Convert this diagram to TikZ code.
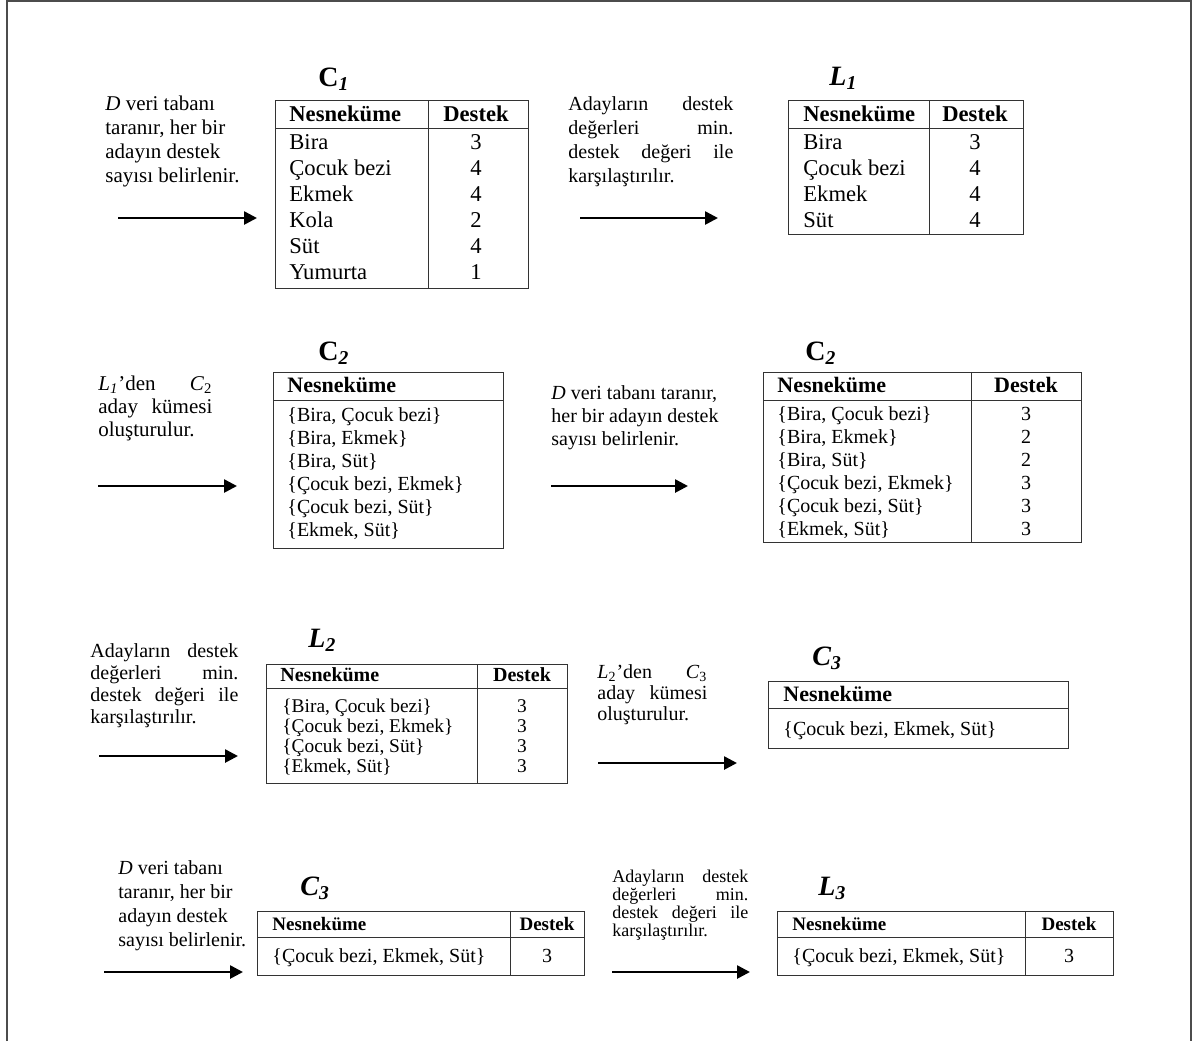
\documentclass[tikz,border=0pt]{standalone}
\usepackage{fontspec}
\setmainfont{Liberation Serif}
\usetikzlibrary{arrows.meta}
\newcommand{\fs}[2]{\fontsize{#1}{#2}\selectfont}
\newcommand{\stack}[2][l]{\begin{tabular}[t]{@{}#1@{}}#2\end{tabular}}
\newcommand{\jst}[2]{\makebox[#1][s]{#2}}
\begin{document}
\begin{tikzpicture}[
  x=0.5pt, y=-0.5pt,
  box/.style={draw=black!80, line width=0.5pt},
  frame/.style={draw=black!70, line width=1pt},
  flow/.style={-{Triangle[length=6.5pt, width=6.5pt]}, line width=1.3pt},
  note/.style={anchor=base west, inner sep=0pt},
  cell/.style={anchor=base west, inner sep=0pt},
  num/.style={anchor=base, inner sep=0pt},
  ttl/.style={anchor=base west, inner sep=0pt, font=\fs{14}{14}\bfseries}
]
  \useasboundingbox (0,0) rectangle (1194,1041);
  \draw[frame] (7,1041) -- (7,1) -- (1191,1) -- (1191,1041);

  \node[note, font=\fs{10.5}{12}] (scan1) at (105,110) {\stack{\textit{D} veri tabanı\\taranır, her bir\\adayın destek\\sayısı belirlenir.}};
  \coordinate (a1s) at (118,218);
  \coordinate (a1e) at (257,218);
  \draw[flow] (a1s) -- (a1e);

  \draw[box] (275,100) rectangle (528,288);
  \draw[box] (275,128) -- (528,128);
  \draw[box] (428,100) -- (428,288);
  \node[ttl] (c1t) at (318,86) {C\textsubscript{\textit{1}}};
  \node[cell, font=\fs{11.3}{13}\bfseries] (c1h) at (289,121) {Nesneküme};
  \node[num, font=\fs{11.3}{13}\bfseries] (c1d) at (476,121) {Destek};
  \node[cell, font=\fs{11.3}{13}] (c1n) at (289,149) {\stack{Bira\\Çocuk bezi\\Ekmek\\Kola\\Süt\\Yumurta}};
  \node[num, font=\fs{11.3}{13}] (c1v) at (476,149) {\stack[c]{3\\4\\4\\2\\4\\1}};

  \node[note, font=\fs{10}{12}] (cmp1) at (568,110) {\stack{\jst{82.5pt}{Adayların destek}\\\jst{82.5pt}{değerleri min.}\\\jst{82.5pt}{destek değeri ile}\\karşılaştırılır.}};
  \coordinate (a2s) at (580,218);
  \coordinate (a2e) at (718,218);
  \draw[flow] (a2s) -- (a2e);

  \draw[box] (788,100) rectangle (1023,234);
  \draw[box] (788,128) -- (1023,128);
  \draw[box] (929,100) -- (929,234);
  \node[ttl] (l1t) at (829,85) {\textit{L\textsubscript{1}}};
  \node[cell, font=\fs{11.3}{13}\bfseries] (l1h) at (803,121) {Nesneküme};
  \node[num, font=\fs{11.3}{13}\bfseries] (l1d) at (975,121) {Destek};
  \node[cell, font=\fs{11.3}{13}] (l1n) at (803,149) {\stack{Bira\\Çocuk bezi\\Ekmek\\Süt}};
  \node[num, font=\fs{11.3}{13}] (l1v) at (975,149) {\stack[c]{3\\4\\4\\4}};

  \node[note, font=\fs{10.5}{11.5}] (gen2) at (98,390) {\stack{\jst{57pt}{\textit{L\textsubscript{1}}’den \textit{C}\textsubscript{2}}\\\jst{57pt}{aday kümesi}\\oluşturulur.}};
  \coordinate (a3s) at (98,486);
  \coordinate (a3e) at (237,486);
  \draw[flow] (a3s) -- (a3e);

  \draw[box] (273,372) rectangle (503,548);
  \draw[box] (273,400) -- (503,400);
  \node[ttl] (c2t) at (318,360) {C\textsubscript{\textit{2}}};
  \node[cell, font=\fs{11}{13}\bfseries] (c2h) at (287,392) {Nesneküme};
  \node[cell, font=\fs{10}{11.5}] (c2n) at (287,421) {\stack{\{Bira, Çocuk bezi\}\\\{Bira, Ekmek\}\\\{Bira, Süt\}\\\{Çocuk bezi, Ekmek\}\\\{Çocuk bezi, Süt\}\\\{Ekmek, Süt\}}};

  \node[note, font=\fs{10}{11.5}] (scan2) at (551,399) {\stack{\textit{D} veri tabanı taranır,\\her bir adayın destek\\sayısı belirlenir.}};
  \coordinate (a4s) at (551,486);
  \coordinate (a4e) at (688,486);
  \draw[flow] (a4s) -- (a4e);

  \draw[box] (763,372) rectangle (1081,542);
  \draw[box] (763,400) -- (1081,400);
  \draw[box] (971,372) -- (971,542);
  \node[ttl] (c2rt) at (805,360) {C\textsubscript{\textit{2}}};
  \node[cell, font=\fs{11}{13}\bfseries] (c2rh) at (777,392) {Nesneküme};
  \node[num, font=\fs{11}{13}\bfseries] (c2rd) at (1026,392) {Destek};
  \node[cell, font=\fs{10}{11.5}] (c2rn) at (777,420) {\stack{\{Bira, Çocuk bezi\}\\\{Bira, Ekmek\}\\\{Bira, Süt\}\\\{Çocuk bezi, Ekmek\}\\\{Çocuk bezi, Süt\}\\\{Ekmek, Süt\}}};
  \node[num, font=\fs{10}{11.5}] (c2rv) at (1026,420) {\stack[c]{3\\2\\2\\3\\3\\3}};

  \node[note, font=\fs{10}{11}] (cmp2) at (90,657) {\stack{\jst{74pt}{Adayların destek}\\\jst{74pt}{değerleri min.}\\\jst{74pt}{destek değeri ile}\\karşılaştırılır.}};
  \coordinate (a5s) at (99,756);
  \coordinate (a5e) at (238,756);
  \draw[flow] (a5s) -- (a5e);

  \draw[box] (266,664) rectangle (567,783);
  \draw[box] (266,688) -- (567,688);
  \draw[box] (477,664) -- (477,783);
  \node[ttl] (l2t) at (308,647) {\textit{L\textsubscript{2}}};
  \node[cell, font=\fs{10}{10}\bfseries] (l2h) at (280,681) {Nesneküme};
  \node[num, font=\fs{10}{10}\bfseries] (l2d) at (522,681) {Destek};
  \node[cell, font=\fs{9.7}{10}] (l2n) at (282,712) {\stack{\{Bira, Çocuk bezi\}\\\{Çocuk bezi, Ekmek\}\\\{Çocuk bezi, Süt\}\\\{Ekmek, Süt\}}};
  \node[num, font=\fs{9.7}{10}] (l2v) at (522,712) {\stack[c]{3\\3\\3\\3}};

  \node[note, font=\fs{10}{10.5}] (gen3) at (597,678) {\stack{\jst{55pt}{\textit{L}\textsubscript{2}’den \textit{C}\textsubscript{3}}\\\jst{55pt}{aday kümesi}\\oluşturulur.}};
  \coordinate (a6s) at (598,763);
  \coordinate (a6e) at (737,763);
  \draw[flow] (a6s) -- (a6e);

  \draw[box] (768,681) rectangle (1068,748);
  \draw[box] (768,708) -- (1068,708);
  \node[ttl] (c3t) at (812,665) {\textit{C\textsubscript{3}}};
  \node[cell, font=\fs{11}{13}\bfseries] (c3h) at (783,701) {Nesneküme};
  \node[cell, font=\fs{10}{12}] (c3n) at (783,735) {\{Çocuk bezi, Ekmek, Süt\}};

  \node[note, font=\fs{10}{12}] (scan3) at (118,874) {\stack{\textit{D} veri tabanı\\taranır, her bir\\adayın destek\\sayısı belirlenir.}};
  \coordinate (a7s) at (104,972);
  \coordinate (a7e) at (243,972);
  \draw[flow] (a7s) -- (a7e);

  \draw[box] (257,911) rectangle (584,975);
  \draw[box] (257,937) -- (584,937);
  \draw[box] (510,911) -- (510,975);
  \node[ttl] (c3bt) at (300,895) {\textit{C\textsubscript{3}}};
  \node[cell, font=\fs{9.5}{12}\bfseries] (c3bh) at (272,930) {Nesneküme};
  \node[num, font=\fs{9.5}{12}\bfseries] (c3bd) at (547,930) {Destek};
  \node[cell, font=\fs{10}{12}] (c3bn) at (272,962) {\{Çocuk bezi, Ekmek, Süt\}};
  \node[num, font=\fs{10}{12}] (c3bv) at (547,962) {3};

  \node[note, font=\fs{9}{9}] (cmp3) at (612,882) {\stack{\jst{68pt}{Adayların destek}\\\jst{68pt}{değerleri min.}\\\jst{68pt}{destek değeri ile}\\karşılaştırılır.}};
  \coordinate (a8s) at (612,972);
  \coordinate (a8e) at (750,972);
  \draw[flow] (a8s) -- (a8e);

  \draw[box] (777,911) rectangle (1113,975);
  \draw[box] (777,937) -- (1113,937);
  \draw[box] (1025,911) -- (1025,975);
  \node[ttl] (l3t) at (818,895) {\textit{L\textsubscript{3}}};
  \node[cell, font=\fs{9.5}{12}\bfseries] (l3h) at (792,930) {Nesneküme};
  \node[num, font=\fs{9.5}{12}\bfseries] (l3d) at (1069,930) {Destek};
  \node[cell, font=\fs{10}{12}] (l3n) at (792,962) {\{Çocuk bezi, Ekmek, Süt\}};
  \node[num, font=\fs{10}{12}] (l3v) at (1069,962) {3};
\end{tikzpicture}
\end{document}
